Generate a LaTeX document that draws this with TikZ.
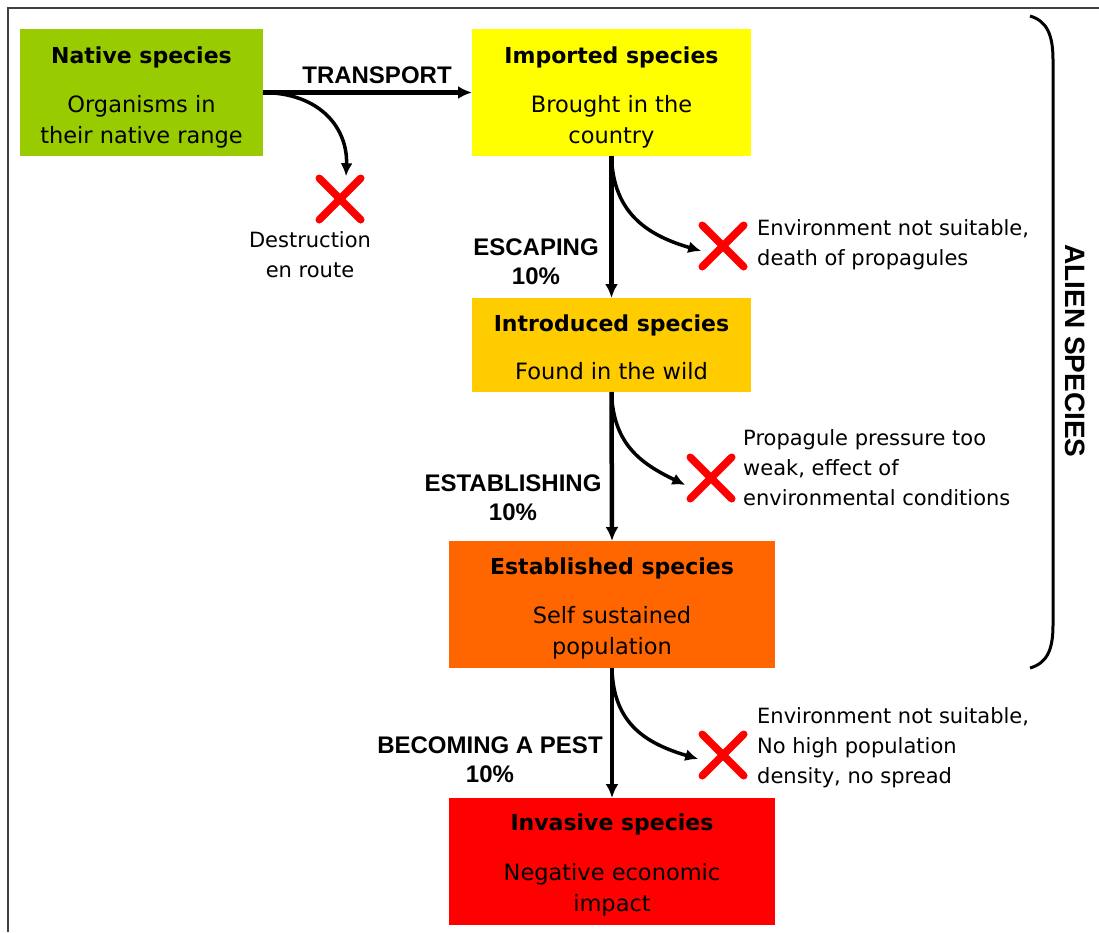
\documentclass[tikz,border=0pt]{standalone}
\usepackage{fontspec}
\setmainfont{DejaVu Sans}
\newfontfamily\labfont{Liberation Sans}
\usetikzlibrary{arrows.meta,shapes.misc}
\definecolor{cgreen}{HTML}{99CC00}
\definecolor{cyellow}{HTML}{FFFF00}
\definecolor{cgold}{HTML}{FFCC00}
\definecolor{corange}{HTML}{FF6600}
\definecolor{cred}{HTML}{FF0000}
\definecolor{cframe}{HTML}{404040}
\begin{document}
\begin{tikzpicture}[x=1pt,y=-1pt,
  box/.style={draw=none,inner sep=0pt,outer sep=0pt},
  ttl/.style={anchor=base,inner sep=0pt,font=\bfseries\fontsize{22}{31}\selectfont},
  bdy/.style={anchor=base,inner sep=0pt,align=center,font=\fontsize{22.5}{31}\selectfont},
  side/.style={anchor=base west,inner sep=0pt,align=left,font=\fontsize{21}{30}\selectfont},
  lab/.style={anchor=base,inner sep=0pt,align=center,font=\labfont\bfseries\fontsize{24}{29}\selectfont},
  main/.style={line width=4.5pt,-{Latex[length=14pt,width=13pt]}},
  branch/.style={line width=3.5pt,-{Latex[length=13pt,width=12pt]}},
  xmark/.style={cross out,draw=cred,line width=7.5pt,line cap=round,minimum size=34pt,inner sep=0pt}]
\useasboundingbox (0,0) rectangle (1099,932);
\fill[white] (0,0) rectangle (1099,932);
\draw[cframe,line width=2pt] (8,932) -- (8,8) -- (1099,8);

% boxes
\node[box,fill=cgreen,minimum width=243pt,minimum height=127pt] (native) at (141.5,92.5) {};
\node[box,fill=cyellow,minimum width=279pt,minimum height=127pt] (imported) at (611.5,92.5) {};
\node[box,fill=cgold,minimum width=279pt,minimum height=94pt] (introduced) at (611.5,345) {};
\node[box,fill=corange,minimum width=326pt,minimum height=127pt] (established) at (612,604.5) {};
\node[box,fill=cred,minimum width=326pt,minimum height=127pt] (invasive) at (612,861.5) {};

% box texts (base = baseline of last line)
\node[ttl] (nativeT) at (141.5,63) {Native species};
\node[bdy] (nativeB) at (141.5,143) {Organisms in\\their native range};
\node[ttl] (importedT) at (611.5,63) {Imported species};
\node[bdy] (importedB) at (611.5,143) {Brought in the\\country};
\node[ttl] (introducedT) at (611.5,331) {Introduced species};
\node[bdy] (introducedB) at (611.5,379) {Found in the wild};
\node[ttl] (establishedT) at (612,574) {Established species};
\node[bdy] (establishedB) at (612,654) {Self sustained\\population};
\node[ttl] (invasiveT) at (612,830) {Invasive species};
\node[bdy] (invasiveB) at (612,911) {Negative economic\\impact};

% main arrows
\draw[main] (native.east) -- (imported.west);
\draw[main] (imported.south) -- (introduced.north);
\draw[main] (introduced.south) -- (established.north);
\draw[main] (established.south) -- (invasive.north);

% labels
\node[lab] (transport) at (377,83) {TRANSPORT};
\node[lab] (escaping) at (536,284) {ESCAPING\\10\%};
\node[lab] (establishing) at (513,520) {ESTABLISHING\\10\%};
\node[lab] (pest) at (490,782) {BECOMING A PEST\\10\%};

% crosses
\node[xmark] (x1) at (340,199) {};
\node[xmark] (x2) at (723,246) {};
\node[xmark] (x3) at (711,478) {};
\node[xmark] (x4) at (723,755) {};

% branches
\draw[branch] (native.east) .. controls (322,93) and (348,130) .. ([xshift=6pt,yshift=2pt]x1.north);
\draw[branch] (imported.south) .. controls (613,215) and (650,236) .. ([xshift=-1pt,yshift=-5pt]x2.west);
\draw[branch] (introduced.south) .. controls (613,445) and (642,464) .. ([xshift=-5pt,yshift=-7pt]x3.west);
\draw[branch] (established.south) .. controls (613,725) and (648,744) .. ([xshift=-4pt,yshift=-4pt]x4.west);

% side texts
\node[side,align=center,anchor=base] (destr) at (310,277) {Destruction\\en route};
\node[side] (s2) at (757,265) {Environment not suitable,\\death of propagules};
\node[side] (s3) at (743,505) {Propagule pressure too\\weak, effect of\\environmental conditions};
\node[side] (s4) at (757,783) {Environment not suitable,\\No high population\\density, no spread};

% brace
\draw[line width=3pt] (1030,16) .. controls (1047,21) and (1053,35) .. (1053,60) -- (1053,625) .. controls (1053,650) and (1047,663) .. (1030,668);
\node[font=\labfont\bfseries\fontsize{28}{30}\selectfont,rotate=-90,inner sep=0pt] (alien) at (1075,351) {ALIEN SPECIES};
\end{tikzpicture}
\end{document}
